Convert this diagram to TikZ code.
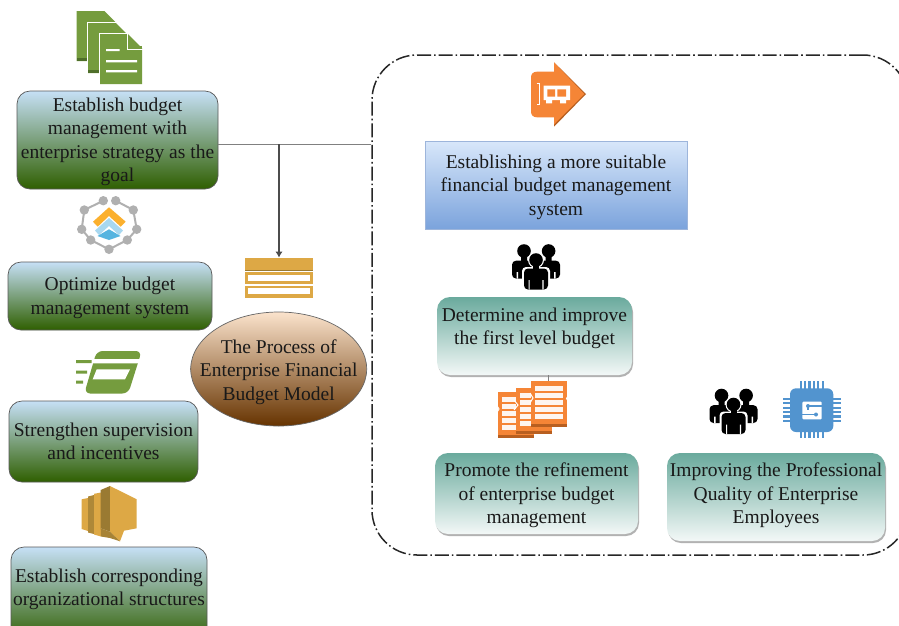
\documentclass[tikz,border=0pt]{standalone}
\usepackage{fontspec}
\setmainfont{Liberation Serif}
\usetikzlibrary{shadows,arrows.meta,shapes.geometric}
\definecolor{grn}{HTML}{759C3E}
\definecolor{grnd}{HTML}{4F6F2A}
\definecolor{org}{HTML}{F58536}
\definecolor{orgd}{HTML}{B85F20}
\definecolor{gold}{HTML}{DDA845}
\definecolor{goldd}{HTML}{9A7A32}
\definecolor{chipb}{HTML}{5294CF}
\definecolor{hexg}{HTML}{B0B0B0}
\definecolor{HTMLtop}{HTML}{C6E0F6}
\definecolor{HTMLbot}{HTML}{2F5F00}
\definecolor{tealt}{HTML}{6AAA9D}
\definecolor{tealb}{HTML}{F3F8F7}
\definecolor{brt}{HTML}{FBE3CC}
\definecolor{brb}{HTML}{663300}
\definecolor{sysb}{HTML}{7BA3DC}
\definecolor{syst}{HTML}{D8E7FA}
\definecolor{sysd}{HTML}{9DB5DB}
\definecolor{HTMLo}{HTML}{FBB02E}
\definecolor{HTMLl}{HTML}{A8D8F0}
\definecolor{HTMLb}{HTML}{55B4E0}
\newcommand{\blocktext}[2]{\raisebox{\dimexpr#1-2pt\relax}[\height][\depth]{\begin{tabular}{@{}c@{}}#2\end{tabular}}}
\tikzset{
  lbl/.style={inner sep=0pt,text=black!90,font=\fontsize{19.5}{23.5}\selectfont},
  greenbox/.style={lbl,rectangle,rounded corners=13pt,draw=black!65,line width=0.7pt,top color=HTMLtop,bottom color=HTMLbot},
  tealbox/.style={lbl,rectangle,rounded corners=13pt,top color=tealt,bottom color=tealb,
     drop shadow={shadow xshift=1pt,shadow yshift=-2pt,fill=black!30,opacity=1}},
  conn/.style={draw=black!50,line width=1pt},
  docpage/.pic={
    \fill[white] (-1,-1) -- (29,-1) -- (43,13) -- (43,51) -- (-1,51) -- cycle;
    \fill[grn] (0,0) -- (28,0) -- (42,14) -- (42,50) -- (0,50) -- cycle;
    \fill[grnd] (0,46.5) rectangle (42,50);
  },
  crew/.pic={
    \fill[black] (-12,-9) circle (6.8) (12.6,-9) circle (6.8);
    \fill[black] (-15,-4) rectangle (-9,3) (9.6,-4) rectangle (15.6,3);
    \fill[black,rounded corners=4pt] (-24,18.5) -- (-24,0.7) -- (24,0.7) -- (24,18.5) -- cycle;
    \fill[white] (-19.5,12) rectangle (-18,18.5) (18,12) rectangle (19.5,18.5);
    \fill[white] (0,0) circle (8);
    \fill[white,rounded corners=4pt] (-14,30) -- (-14,7) -- (14,7) -- (14,30) -- cycle;
    \fill[black] (0,0) circle (6.8);
    \fill[black] (-3,5) rectangle (3,10);
    \fill[black,rounded corners=4pt] (-12,29.5) -- (-12,8.5) -- (12,8.5) -- (12,29.5) -- cycle;
    \fill[white] (-7.5,20) rectangle (-6.3,29.5) (6.3,20) rectangle (7.5,29.5);
  },
  sheet/.pic={
    \fill[org] (0,0) rectangle (36,43);
    \fill[orgd] (0,43) rectangle (36,46);
    \foreach \yy in {5,12,19,26,33}{\fill[white!92!org] (4,\yy) rectangle (32,\yy+4.8);}
  }
}
\begin{document}
\begin{tikzpicture}[x=1pt,y=-1pt]
\path[use as bounding box,clip] (0,0) rectangle (899,625);
\fill[white] (0,0) rectangle (899,625);

% frame
\node[draw=black!85,line width=1.5pt,dash pattern=on 14pt off 3pt on 1.6pt off 3pt,rounded corners=45pt,
  minimum width=536pt,minimum height=500pt,inner sep=0pt] (frame) at (640,305) {};

% left boxes
\node[greenbox,minimum width=201pt,minimum height=98pt] (b1) at (117.5,140) {\blocktext{0pt}{Establish budget\\management with\\enterprise strategy as the\\goal}};
\node[greenbox,minimum width=204pt,minimum height=68pt] (b2) at (110,296) {\blocktext{0pt}{Optimize budget\\management system}};
\node[greenbox,minimum width=189pt,minimum height=81pt] (b3) at (103.5,441.5) {\blocktext{0pt}{Strengthen supervision\\and incentives}};
\node[greenbox,minimum width=196pt,minimum height=95pt] (b4) at (109,594.5) {\blocktext{7pt}{Establish corresponding\\organizational structures}};

% ellipse
\node[lbl,ellipse,draw=black!60,line width=0.7pt,top color=brt,bottom color=brb,inner xsep=-30pt,
  minimum width=176pt,minimum height=114pt] (model) at (278.7,369) {\blocktext{-1pt}{The Process of\\Enterprise Financial\\Budget Model}};

% right boxes
\node[lbl,rectangle,draw=sysd,line width=0.7pt,top color=syst,bottom color=sysb,
  minimum width=262pt,minimum height=88pt] (sys) at (556,185) {\blocktext{0pt}{Establishing a more suitable\\financial budget management\\system}};
\node[tealbox,minimum width=195pt,minimum height=78pt] (first) at (534.5,336) {\blocktext{9.5pt}{Determine and improve\\the first level budget}};
\node[tealbox,minimum width=203pt,minimum height=81pt] (refine) at (536.5,493.5) {\blocktext{0pt}{Promote the refinement\\of enterprise budget\\management}};
\node[tealbox,minimum width=218pt,minimum height=88pt] (prof) at (776,497) {\blocktext{3.5pt}{Improving the Professional\\Quality of Enterprise\\Employees}};

% connectors
\coordinate (j) at (279,144);
\coordinate (stacktop) at (279,257.5);
\coordinate (sheettop) at (548.5,381);
\draw[conn] (b1.east|-j) -- (frame.west|-j);
\draw[conn,draw=black!70,line width=1.1pt,-{Latex[length=6pt,width=7.5pt]}] (j) -- (stacktop);
\draw[conn] (first.south-|sheettop) -- (sheettop);

% green documents
\pic at (76.5,11) {docpage};
\pic at (88,23) {docpage};
\pic at (100,34) {docpage};
\fill[grn] (100,46) rectangle (142,84);
\fill[white] (106,49.2) rectangle (119.5,51.2) (106,60) rectangle (137,62.4) (106,70) rectangle (137,72.4);
\draw[white,line width=1.3pt] (127.5,34) -- (127.5,49.5) -- (143,49.5);

% hexagon icon
\draw[hexg,line width=2pt] (103.3,200.7) -- (84.3,210) -- (81.7,229.3) -- (90.7,240) -- (109,249.3) -- (127.3,240) -- (136.7,229.3) -- (133.3,210) -- (115.7,200.7);
\foreach \p in {(103.3,200.7),(115.7,200.7),(133.3,210),(84.3,210),(81.7,229.3),(136.7,229.3),(90.7,240),(127.3,240),(109,249.3)}
  \fill[hexg] \p circle (4.7);
\fill[HTMLo] (109,207.3) -- (125.7,221.7) -- (120.7,226.7) -- (109,216) -- (97.7,226.7) -- (93,221.7) -- cycle;
\fill[HTMLl] (109,218) -- (123,230.5) -- (119,235) -- (109,226) -- (99,235) -- (95,230.5) -- cycle;
\fill[HTMLb] (109,229.3) -- (120.5,236) -- (109,240) -- (97.5,236) -- cycle;

% speed icon
\fill[grn,rounded corners=6pt] (96.7,351) -- (141.7,351) -- (128.3,393.5) -- (84.3,393.5) -- cycle;
\fill[white] (91,359) -- (142,359) -- (141,363.3) -- (90,363.3) -- cycle;
\fill[white] (96.7,369.3) -- (130,369.3) -- (125,379.3) -- (92.7,379.3) -- cycle;
\fill[grn] (76,360) rectangle (91.5,363) (76,370.7) rectangle (87,373.7) (76,380.7) rectangle (83,383.7);

% gold speech icon
\fill[gold] (81.7,499.3) -- (88,498) -- (88,531) -- (81.7,529) -- cycle;
\fill[goldd!70!gold] (88,496.5) -- (94,495) -- (94,534) -- (88,532.5) -- cycle;
\fill[gold] (94,493.8) -- (101,492.5) -- (101,536.5) -- (94,534.5) -- cycle;
\fill[goldd] (100.7,490) -- (110,486) -- (110,531.7) -- (100.7,528.3) -- cycle;
\fill[gold] (110,486) -- (136.7,499.3) -- (136.7,528.3) -- (124,530.7) -- (120,541.3) -- (110,531.7) -- cycle;
\fill[goldd!80!gold] (100.7,528.3) -- (110,531.7) -- (120,541.3) -- (110,538) -- (101,536.5) -- cycle;

% gold stack
\fill[gold] (245,257.5) rectangle (312.7,270.7);
\fill[goldd] (245,269.7) rectangle (312.7,270.7);
\fill[gold] (245,272.3) rectangle (312.7,284);
\fill[white] (247.7,274.5) rectangle (310,280.7);
\fill[gold] (245,286) rectangle (312.7,297.7);
\fill[white] (247.7,288) rectangle (310,294);

% orange arrow
\fill[orgd] (554,62.3) -- (586,94) -- (554,126.7) -- cycle;
\fill[org] (554,62.3) -- (584.3,94) -- (554,124.5) -- (554,117.3) -- (537,117.3)
   .. controls (533,117.3) and (531,115) .. (531,111.5) -- (531,77.5)
   .. controls (531,74) and (533,71.7) .. (537,71.7) -- (554,71.7) -- cycle;
\draw[white,line width=1pt] (536.7,83.5) -- (539.5,83.5) -- (539.5,104.5) -- (536.7,104.5);
\fill[white] (543.5,85.7) rectangle (570,100) (546,100) rectangle (552,103.3) (560,100) rectangle (566,103.3);
\fill[org] (547.3,89.3) rectangle (555,96.7) (557.3,89.3) rectangle (566,96.7);

% people
\pic at (536,260) {crew};
\pic at (733.5,404.5) {crew};

% orange sheets
\pic at (498,391.7) {sheet};
\pic at (516,387.7) {sheet};
\pic at (530.7,380.7) {sheet};
\draw[white,line width=1pt] (496,404) -- (499,409) -- (496,414) (514,400) -- (518,405) -- (514,410) (530,393) -- (533,398) -- (530,403);
\draw[white,line width=1pt] (570,393) -- (566.5,398.5) -- (570,404);

% chip
\foreach \k in {-11,-6.6,-2.2,2.2,6.6,11}{
  \fill[chipb] (811.7+\k-1.1,380.7) rectangle (811.7+\k+1.1,438.3);
  \fill[chipb] (783.3,409.8+\k-1.1) rectangle (840.7,409.8+\k+1.1);
}
\fill[chipb,rounded corners=6pt] (790,388.3) rectangle (833.3,432);
\fill[white,rounded corners=1pt] (802.3,401.7) rectangle (821.7,419.3);
\draw[chipb,line width=1.2pt] (808,406) -- (821.7,406);
\draw[chipb,line width=1.2pt] (802.3,414.5) -- (816,414.5);
\draw[chipb,line width=1.2pt] (808,406) -- (808,410);
\fill[chipb] (808,406) circle (2) (816,414.5) circle (2);
\end{tikzpicture}
\end{document}
